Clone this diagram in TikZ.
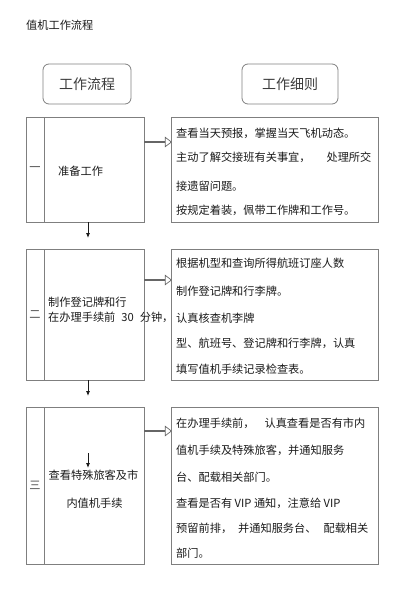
\documentclass[tikz,border=0pt]{standalone}
\usepackage{fontspec}
\setmainfont{Noto Sans CJK SC}
\usetikzlibrary{arrows.meta,positioning,shapes.arrows}
\definecolor{Frame}{HTML}{7F7F7F}
\definecolor{Ink}{HTML}{1A1A1A}
\newcommand{\DetLine}[3]{%
  \node[detline] (#1) at (176,#2) {#3};%
}

\begin{document}
\begin{tikzpicture}[x=1pt,y=-1pt,
  headbox/.style={draw=Frame,line width=0.8pt,rounded corners=6pt,inner sep=0pt,font=\fontsize{14}{16}\selectfont,text=Ink!85},
  numbox/.style={draw=Frame,line width=0.9pt,minimum width=18pt,inner sep=0pt,font=\fontsize{11.2}{12}\selectfont,text=Ink!80},
  stepbox/.style={draw=Frame,line width=0.9pt,minimum width=100pt,inner sep=0pt},
  detbox/.style={draw=Frame,line width=0.9pt,minimum width=207pt,inner sep=0pt},
  blockarrow/.style={single arrow,draw=Frame!80!black,fill=white,line width=0.7pt,inner sep=0pt,
    minimum height=27pt,minimum width=9.5pt,single arrow head extend=2.5pt,single arrow tip angle=75},
  steptext/.style={inner sep=0pt,font=\fontsize{11.2}{12}\selectfont,text=Ink},
  detline/.style={anchor=west,inner sep=0pt,font=\fontsize{11.2}{12}\selectfont,text=Ink},
  flowarrow/.style={-{Latex[length=5pt,width=4pt]},line width=0.8pt,Ink}]
\useasboundingbox (0,0) rectangle (400,608);
\node[anchor=west,inner sep=0pt,font=\fontsize{11.2}{12}\selectfont,text=Ink] (title) at (26,25) {值机工作流程};
\node[headbox,minimum width=88pt,minimum height=40pt] (hflow) at (87,84) {工作流程};
\node[headbox,minimum width=96pt,minimum height=40pt] (hrule) at (290,84) {工作细则};
% rows: number, step, details, arrow
\foreach \i/\yc/\h/\num/\ya in {1/169.5/105/一/142,2/314.5/131/二/280,3/485.5/157/三/431} {
  \node[numbox,minimum height=\h pt] (num\i) at (35,\yc) {\num};
  \node[stepbox,minimum height=\h pt] (step\i) at (94,\yc) {};
  \node[detbox,minimum height=\h pt] (det\i) at (274.5,\yc) {};
  \node[blockarrow] (go\i) at (157.5,\ya) {};
}
\node[steptext,anchor=west] (t1) at (58,171) {准备工作};
\node[steptext,anchor=west] (t2a) at (48,302) {制作登记牌和行};
\node[steptext,anchor=west] (t2b) at (48,317) {在办理手续前\hspace{6pt}30\hspace{6pt}分钟，};
\node[steptext] (t3a) at (93.5,475) {查看特殊旅客及市};
\node[steptext] (t3b) at (94.5,503) {内值机手续};
\coordinate (e1) at (88,238);
\coordinate (e2) at (88,396);
\coordinate (m3a) at (88,453);
\coordinate (m3b) at (88,468);
\draw[flowarrow] (step1.south -| e1) -- (e1);
\draw[flowarrow] (step2.south -| e2) -- (e2);
\draw[flowarrow] (m3a) -- (m3b);
\DetLine{d1a}{133}{查看当天预报，掌握当天飞机动态。}
\DetLine{d1b}{157}{主动了解交接班有关事宜，\hspace{16pt}处理所交}
\DetLine{d1c}{186}{接遗留问题。}
\DetLine{d1d}{210}{按规定着装，佩带工作牌和工作号。}
\DetLine{d2a}{263}{根据机型和查询所得航班订座人数}
\DetLine{d2b}{291}{制作登记牌和行李牌。}
\DetLine{d2c}{318}{认真核查机李牌}
\DetLine{d2d}{343}{型、航班号、登记牌和行李牌，认真}
\DetLine{d2e}{369}{填写值机手续记录检查表。}
\DetLine{d3a}{423}{在办理手续前，\hspace{10pt}认真查看是否有市内}
\DetLine{d3b}{450}{值机手续及特殊旅客，并通知服务}
\DetLine{d3c}{477}{台、配载相关部门。}
\DetLine{d3d}{503}{查看是否有 VIP 通知，注意给 VIP}
\DetLine{d3e}{528}{预留前排，\hspace{6pt}并通知服务台、\hspace{7pt}配载相关}
\DetLine{d3f}{553}{部门。}
\end{tikzpicture}
\end{document}
